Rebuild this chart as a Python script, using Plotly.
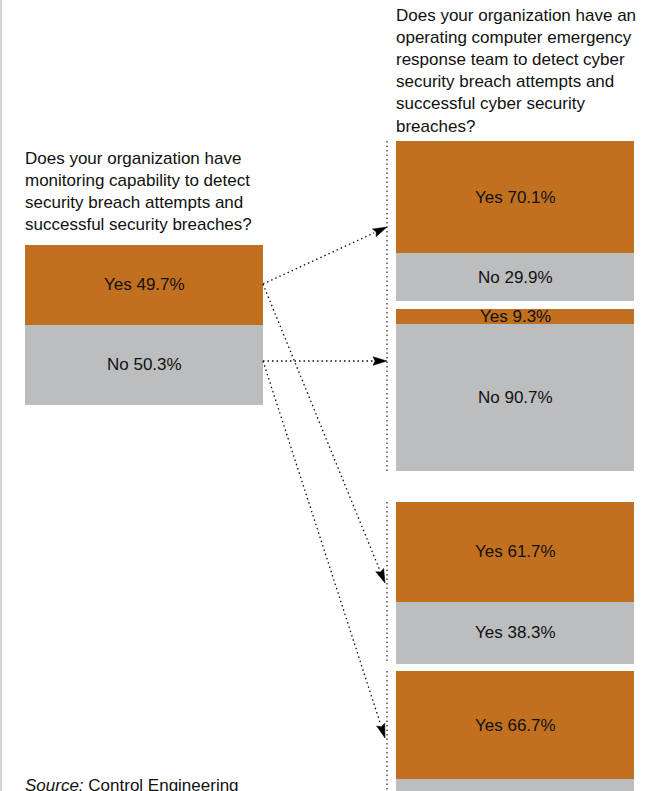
import numpy as np
import plotly.graph_objects as go

# ---------------- data ----------------
bar_names = ["Monitoring capability", "Yes -> CERT", "No -> CERT", "Yes -> CERT (2)", "No -> CERT (2)"]
yes_values = [49.7, 70.1, 9.3, 61.7, 66.7]
no_values = [50.3, 29.9, 90.7, 38.3, 33.3]
yes_labels = ["Yes 49.7%", "Yes 70.1%", "Yes 9.3%", "Yes 61.7%", "Yes 66.7%"]
no_labels = ["No 50.3%", "No 29.9%", "No 90.7%", "Yes 38.3%", "No 33.3%"]

question_left = ("Does your organization have<br>monitoring capability to detect<br>"
                 "security breach attempts and<br>successful security breaches?")
question_right = ("Does your organization have an<br>operating computer emergency<br>"
                  "response team to detect cyber<br>security breach attempts and<br>"
                  "successful cyber security<br>breaches?")
source_text = "<i>Source:</i> Control Engineering"

# ---------------- layout (pixels) ----------------
W, H = 664, 791
ORANGE = "#C1701F"
GRAY = "#BCBDBF"
FONT = "Liberation Sans, Arial, Helvetica, sans-serif"
FS = 17

# (left, right, top, bottom) pixel boxes of each stacked bar
boxes = [
    (25, 263, 245, 405),
    (396, 634, 141, 301),
    (396, 634, 309, 471),
    (396, 634, 502, 664),
    (396, 634, 671, 833),
]


def px(x):
    return x / W


def py(y):
    return 1 - y / H


fig = go.Figure()
annotations = []
shapes = []

for i, (l, r, t, b) in enumerate(boxes):
    n = i + 1
    xa = "x" if n == 1 else f"x{n}"
    ya = "y" if n == 1 else f"y{n}"
    vis_b = min(b, H)
    frac = (vis_b - t) / (b - t)
    total = yes_values[i] + no_values[i]
    fig.add_trace(go.Bar(x=[0], y=[yes_values[i]], width=[1], marker=dict(color=ORANGE, line=dict(width=0)),
                         xaxis=xa, yaxis=ya, showlegend=False, hoverinfo="skip", name=bar_names[i] + " Yes"))
    fig.add_trace(go.Bar(x=[0], y=[no_values[i]], width=[1], marker=dict(color=GRAY, line=dict(width=0)),
                         xaxis=xa, yaxis=ya, showlegend=False, hoverinfo="skip", name=bar_names[i] + " No"))
    axkey_x = "xaxis" if n == 1 else f"xaxis{n}"
    axkey_y = "yaxis" if n == 1 else f"yaxis{n}"
    fig.update_layout(**{
        axkey_x: dict(domain=[px(l), px(r)], range=[-0.5, 0.5], visible=False, fixedrange=True,
                      anchor=ya),
        axkey_y: dict(domain=[py(vis_b), py(t)], range=[total * frac, 0], visible=False, fixedrange=True,
                      anchor=xa),
    })
    # labels centred in each segment
    annotations.append(dict(xref=xa, yref=ya, x=0, y=yes_values[i] / 2, text=yes_labels[i],
                            showarrow=False, font=dict(family=FONT, size=FS, color="#111111")))
    no_mid = yes_values[i] + no_values[i] / 2
    if no_mid < total * frac:
        annotations.append(dict(xref=xa, yref=ya, x=0, y=no_mid, text=no_labels[i],
                                showarrow=False, font=dict(family=FONT, size=FS, color="#111111")))

# questions and source
annotations.append(dict(xref="paper", yref="paper", x=px(23), y=py(147), xanchor="left", yanchor="top",
                        align="left", text=question_left, showarrow=False,
                        font=dict(family=FONT, size=FS, color="#111111")))
annotations.append(dict(xref="paper", yref="paper", x=px(394), y=py(4), xanchor="left", yanchor="top",
                        align="left", text=question_right, showarrow=False,
                        font=dict(family=FONT, size=FS, color="#111111")))
annotations.append(dict(xref="paper", yref="paper", x=px(23), y=py(785), xanchor="left", yanchor="middle",
                        align="left", text=source_text, showarrow=False,
                        font=dict(family=FONT, size=FS, color="#111111")))

DOT = "1.5px,3px"
# vertical dotted guides next to right bars
for (y0, y1) in [(141, 471), (502, 664), (671, 833)]:
    shapes.append(dict(type="line", xref="paper", yref="paper", x0=px(387), x1=px(387), y0=py(y0), y1=py(y1),
                       line=dict(color="#333333", width=1.3, dash=DOT)))

# left border
shapes.append(dict(type="line", xref="paper", yref="paper", x0=px(1), x1=px(1), y0=0, y1=1,
                   line=dict(color="#D6D4CE", width=2)))

# connector arrows (start, end) in pixels
arrows = [((263, 284), (387, 227)), ((263, 361), (387, 361)),
          ((263, 284), (385, 583)), ((263, 361), (385, 738))]
HEAD_L, HEAD_W = 14, 4.3
for (s, e) in arrows:
    s = np.array(s, float)
    e = np.array(e, float)
    d = (e - s) / np.linalg.norm(e - s)
    nrm = np.array([-d[1], d[0]])
    base = e - d * HEAD_L
    shapes.append(dict(type="line", xref="paper", yref="paper", x0=px(s[0]), y0=py(s[1]),
                       x1=px(base[0]), y1=py(base[1]), line=dict(color="#111111", width=1.3, dash=DOT)))
    p1 = base + nrm * HEAD_W
    p2 = base - nrm * HEAD_W
    notch = e - d * (HEAD_L * 0.85)
    path = (f"M {px(e[0])},{py(e[1])} L {px(p1[0])},{py(p1[1])} L {px(notch[0])},{py(notch[1])} "
            f"L {px(p2[0])},{py(p2[1])} Z")
    shapes.append(dict(type="path", xref="paper", yref="paper", path=path,
                       fillcolor="#000000", line=dict(color="#000000", width=0.5)))

fig.update_layout(
    width=W, height=H, margin=dict(l=0, r=0, t=0, b=0),
    paper_bgcolor="white", plot_bgcolor="white",
    barmode="stack", bargap=0,
    annotations=annotations, shapes=shapes,
    showlegend=False,
)

fig.write_html("out.html", config={"displayModeBar": False},
               post_script="document.body.style.margin='0';document.body.style.overflow='hidden';")
